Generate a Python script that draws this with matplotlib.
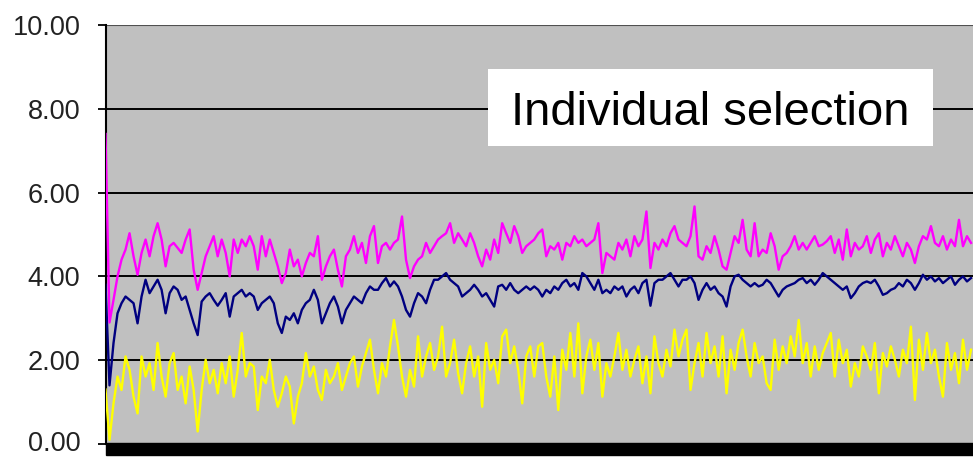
import matplotlib
matplotlib.use("Agg")
import matplotlib.pyplot as plt
from matplotlib.patches import Rectangle
from matplotlib.transforms import ScaledTranslation

# generation-by-generation averages, one value every few generations
navy_vals = [
    3.80, 1.40,
    2.41, 3.12, 3.36, 3.52, 3.44, 3.36, 2.88, 3.52, 3.92, 3.60, 3.76, 3.92,
    3.68, 3.12, 3.60, 3.76, 3.68, 3.44, 3.52, 3.20, 2.88, 2.60, 3.40, 3.52,
    3.60, 3.44, 3.30, 3.44, 3.60, 3.04, 3.52, 3.60, 3.68, 3.52, 3.60,
    3.52, 3.20, 3.36, 3.44, 3.52, 3.36, 2.88, 2.65, 3.04, 2.96, 3.12, 2.88,
    3.20, 3.36, 3.44, 3.68, 3.44, 2.88, 3.12, 3.36, 3.52, 3.28, 2.88, 3.20,
    3.36, 3.52, 3.44, 3.36, 3.60, 3.76, 3.68, 3.68, 3.84, 3.96, 3.76, 3.88,
    3.76, 3.52, 3.20, 3.04, 3.36, 3.60, 3.52, 3.36, 3.68, 3.92, 3.92, 4.00,
    4.08, 3.92, 3.84, 3.76, 3.52, 3.60, 3.68, 3.80, 3.68, 3.52, 3.60, 3.44,
    3.28, 3.76, 3.80, 3.68, 3.84, 3.68, 3.60, 3.68, 3.76, 3.68, 3.76, 3.68,
    3.52, 3.68, 3.60, 3.76, 3.68, 3.84, 3.92, 3.76, 3.84, 3.68, 4.08, 4.00,
    3.84, 3.68, 3.92, 3.60, 3.68, 3.60, 3.76, 3.68, 3.76, 3.52, 3.68, 3.76,
    3.60, 3.84, 3.92, 3.30, 3.84, 3.92, 3.92, 4.00, 4.08, 3.92, 3.76, 3.92,
    3.92, 4.00, 3.84, 3.44, 3.68, 3.84, 3.68, 3.76, 3.60, 3.52, 3.28, 3.76,
    4.00, 4.04, 3.92, 3.84, 3.76, 3.84, 3.76, 3.80, 3.92, 3.84, 3.68, 3.52,
    3.68, 3.76, 3.80, 3.84, 3.92, 3.96, 3.84, 3.92, 3.80, 3.92, 4.08, 4.00,
    3.92, 3.84, 3.76, 3.68, 3.76, 3.48, 3.60, 3.76, 3.84, 3.88, 3.84, 3.92,
    3.76, 3.56, 3.60, 3.68, 3.72, 3.84, 3.76, 3.92, 3.84, 3.68, 3.84, 4.04,
    3.92, 4.00, 3.88, 3.96, 3.84, 3.92, 4.00, 3.80, 3.92, 4.00, 3.88, 3.96,
]

magenta_vals = [
    7.40, 2.90,
    3.44, 4.00, 4.40, 4.64, 5.03, 4.48, 4.04, 4.56, 4.88, 4.48, 4.96, 5.27,
    4.88, 4.24, 4.72, 4.80, 4.68, 4.56, 4.88, 5.12, 4.16, 3.68, 4.08, 4.48,
    4.72, 4.96, 4.48, 4.88, 4.56, 4.00, 4.88, 4.56, 4.88, 4.72, 4.96,
    4.72, 4.16, 4.96, 4.48, 4.88, 4.56, 4.24, 3.84, 4.08, 4.64, 4.24, 4.40,
    4.00, 4.32, 4.56, 4.48, 4.96, 3.92, 4.24, 4.48, 4.64, 4.16, 3.76, 4.48,
    4.64, 4.96, 4.56, 4.80, 4.32, 4.96, 5.20, 4.32, 4.72, 4.80, 4.64, 4.80,
    4.88, 5.43, 4.40, 3.96, 4.24, 4.40, 4.48, 4.80, 4.56, 4.72, 4.88, 4.96,
    5.03, 5.27, 4.80, 5.03, 4.88, 4.72, 5.03, 4.80, 4.48, 4.24, 4.64, 4.40,
    4.88, 4.56, 5.27, 5.03, 4.80, 5.20, 4.96, 4.56, 4.72, 4.80, 4.88, 5.03,
    5.12, 4.48, 4.72, 4.64, 4.80, 4.40, 4.80, 4.72, 4.96, 4.80, 4.88, 4.72,
    4.80, 4.88, 5.27, 4.08, 4.56, 4.48, 4.40, 4.80, 4.64, 4.88, 4.48, 4.96,
    4.72, 4.88, 5.55, 4.20, 4.80, 4.64, 4.88, 4.72, 5.03, 5.20, 4.88, 4.80,
    4.72, 4.96, 5.67, 4.48, 4.40, 4.72, 4.56, 4.96, 4.64, 4.24, 4.16, 4.56,
    4.96, 4.80, 5.35, 4.64, 4.48, 5.27, 4.48, 4.64, 4.56, 5.03, 4.72, 4.16,
    4.48, 4.56, 4.72, 4.96, 4.64, 4.80, 4.64, 4.80, 4.96, 4.72, 4.76, 4.84,
    4.96, 4.56, 4.88, 4.40, 5.12, 4.48, 4.80, 4.64, 4.72, 4.96, 4.56, 4.88,
    5.03, 4.48, 4.80, 4.64, 4.96, 4.72, 4.48, 4.80, 4.64, 4.32, 4.72, 4.96,
    4.88, 5.20, 4.80, 4.72, 4.96, 4.64, 4.88, 4.72, 5.35, 4.72, 4.96, 4.80,
]

yellow_vals = [
    1.30, 0.10,
    0.97, 1.61, 1.29, 2.09, 1.77, 1.13, 0.73, 2.09, 1.61, 1.93, 1.29, 2.41,
    1.61, 1.13, 1.93, 2.17, 1.29, 1.61, 0.97, 1.85, 1.29, 0.30, 1.29, 2.01,
    1.45, 1.77, 1.21, 1.93, 1.45, 2.09, 1.13, 1.77, 2.65, 1.61, 1.93,
    1.85, 0.81, 1.61, 1.45, 2.01, 1.29, 0.89, 1.21, 1.61, 1.37, 0.49, 1.13,
    1.45, 2.17, 1.61, 1.85, 1.29, 1.05, 1.77, 1.45, 1.61, 1.93, 1.29, 1.61,
    1.93, 2.09, 1.37, 1.85, 2.17, 2.49, 1.77, 1.21, 1.93, 1.61, 2.33, 2.96,
    2.33, 1.61, 1.13, 1.77, 1.37, 2.57, 1.61, 2.09, 2.41, 1.77, 2.09, 2.80,
    1.61, 1.93, 2.49, 1.69, 1.21, 1.93, 2.33, 1.61, 2.09, 0.89, 2.41, 1.77,
    2.01, 1.45, 2.57, 2.73, 1.93, 2.33, 1.77, 0.97, 2.09, 2.33, 1.61, 2.33,
    2.41, 1.61, 1.13, 2.09, 0.81, 2.25, 1.77, 2.65, 1.61, 2.88, 1.21, 2.09,
    2.49, 1.77, 2.41, 1.13, 1.93, 1.61, 2.09, 2.65, 1.77, 2.25, 1.61, 2.01,
    2.33, 1.45, 2.09, 1.21, 2.57, 1.93, 1.61, 2.25, 1.85, 2.73, 2.09, 2.49,
    2.73, 1.29, 1.93, 2.41, 1.61, 2.65, 1.93, 2.33, 1.61, 2.57, 1.21, 2.25,
    1.77, 2.41, 2.73, 2.09, 1.61, 2.41, 1.93, 2.09, 1.45, 1.29, 2.49, 1.77,
    2.33, 1.93, 2.57, 2.09, 2.96, 1.93, 2.41, 1.61, 2.33, 1.77, 2.17, 2.41,
    2.65, 1.61, 2.49, 1.93, 2.25, 1.37, 1.93, 1.61, 2.33, 2.09, 1.77, 2.41,
    1.21, 2.17, 1.85, 2.33, 2.01, 1.61, 2.25, 1.93, 2.80, 1.05, 2.49, 1.77,
    2.65, 1.93, 2.25, 1.61, 1.13, 2.41, 1.77, 2.17, 1.45, 2.49, 1.77, 2.25,
]

y_ticks = [0, 2, 4, 6, 8, 10]
y_labels = ["0.00", "2.00", "4.00", "6.00", "8.00", "10.00"]
box_label = "Individual selection"

fig = plt.figure(figsize=(9.73, 4.58), dpi=100)
fig.patch.set_facecolor("white")

W, H = 973.0, 458.0
left, right = 105.5 / W, 1.0
bottom, top = 1 - 444 / H, 1 - 25 / H
ax = fig.add_axes([left, bottom, right - left, top - bottom])
ax.set_facecolor("#c0c0c0")

x = list(range(len(navy_vals)))
ax.set_xlim(0, len(navy_vals) - 0.5)
ax.set_ylim(0, 10)

for yv in y_ticks[1:-1]:
    ax.axhline(yv, color="black", lw=1.4, zorder=1)
ax.axhline(10, color="#505050", lw=0.8, zorder=1)

ax.plot(x, navy_vals, color="#000080", lw=1.7, zorder=3)
ax.plot(x, magenta_vals, color="#ff00ff", lw=1.7, zorder=3)
ax.plot(x, yellow_vals, color="#ffff00", lw=1.7, zorder=3)

# thick black base under the plot area
fig.patches.append(Rectangle((left, 1 - 455 / H), right - left, 12 / H,
                             transform=fig.transFigure, color="black", zorder=5))

for side in ["top", "right", "bottom"]:
    ax.spines[side].set_visible(False)
ax.spines["left"].set_color("black")
ax.spines["left"].set_linewidth(1.5)

ax.set_xticks([])
ax.set_yticks(y_ticks)
ax.set_yticklabels(y_labels, family=["Liberation Sans", "DejaVu Sans"],
                   fontsize=19.5, color="#222222")
ax.tick_params(axis="y", length=6, width=1.3, color="black", pad=12)

# keep the bottom label inside the figure
zero_lbl = ax.get_yticklabels()[0]
zero_lbl.set_transform(zero_lbl.get_transform() +
                       ScaledTranslation(0, 2.5 / 72, fig.dpi_scale_trans))

# label box
fig.patches.append(Rectangle((488 / W, 1 - 146 / H), (933 - 488) / W, 77 / H,
                             transform=fig.transFigure, facecolor="white",
                             edgecolor="none", zorder=6))
fig.text(710 / W, 1 - 125 / H, box_label, ha="center", va="baseline",
         fontsize=34, family=["Liberation Sans", "DejaVu Sans"], color="black",
         zorder=7)

fig.savefig("out.png", dpi=100)
